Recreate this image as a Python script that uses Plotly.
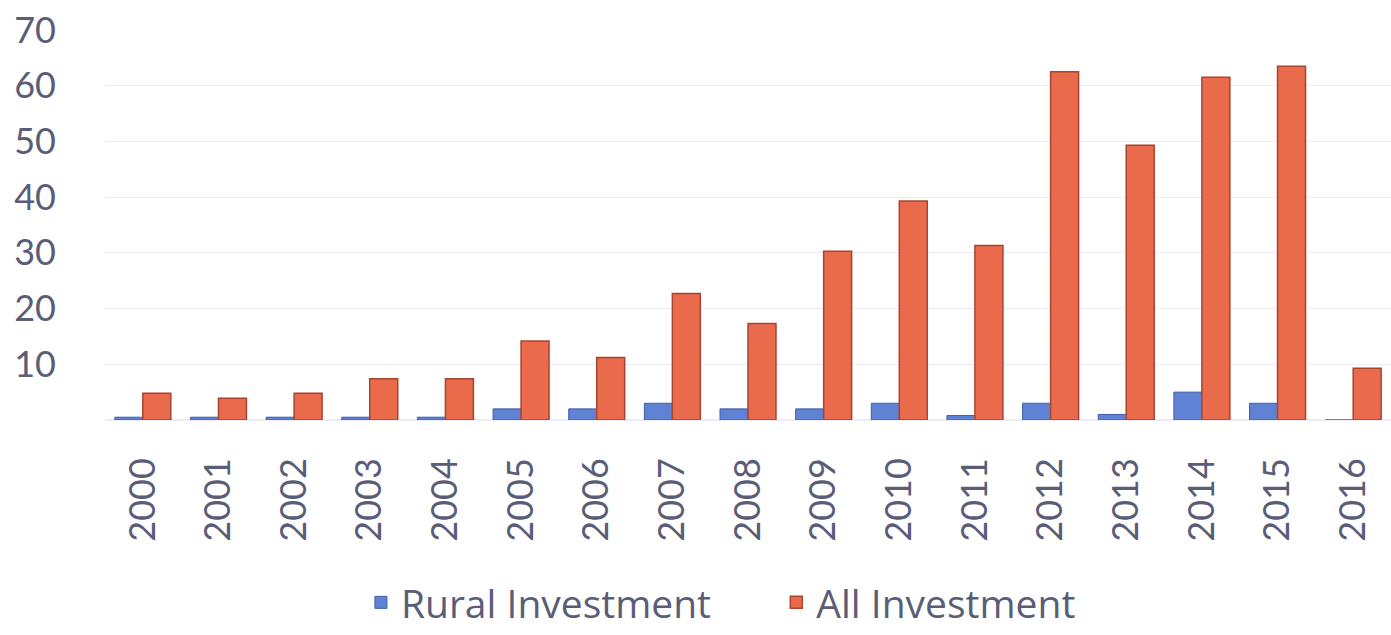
import plotly.graph_objects as go

years = [str(y) for y in range(2000, 2017)]
rural = [0.5, 0.5, 0.5, 0.5, 0.5, 2, 2, 3, 2, 2, 3, 0.8, 3, 1, 5, 3, 0]
all_inv = [4.8, 3.9, 4.8, 7.4, 7.4, 14.2, 11.2, 22.7, 17.3, 30.3, 39.3, 31.3, 62.5, 49.3, 61.5, 63.5, 9.3]
y_ticks = [10, 20, 30, 40, 50, 60, 70]

font_fam = "Lato, 'Open Sans', sans-serif"
txt_col = "#5a5d78"
leg_font = dict(size=39, color=txt_col, family="'Open Sans', sans-serif")

fig = go.Figure()
fig.add_trace(go.Bar(
    x=years, y=rural, name="Rural Investment", legend="legend",
    marker=dict(color="#5f82d4", line=dict(color="#3f5ea8", width=1)),
))
fig.add_trace(go.Bar(
    x=years, y=all_inv, name="All Investment", legend="legend2",
    marker=dict(color="#ea6a4c", line=dict(color="#a8452f", width=1.5)),
))

fig.update_layout(
    width=1391, height=635,
    margin=dict(l=105, r=0, t=30, b=208),
    paper_bgcolor="white", plot_bgcolor="white",
    barmode="group", bargap=0.26, bargroupgap=0.0,
    font=dict(family=font_fam, color=txt_col),
    showlegend=True,
    legend=dict(
        orientation="h", x=0.199, xanchor="left", y=-0.468, yanchor="middle",
        font=leg_font, bgcolor="rgba(0,0,0,0)",
    ),
    legend2=dict(
        orientation="h", x=0.522, xanchor="left", y=-0.468, yanchor="middle",
        font=leg_font, bgcolor="rgba(0,0,0,0)",
    ),
    xaxis=dict(
        tickangle=-90, tickfont=dict(size=36, color=txt_col),
        showgrid=False, showline=False, ticks="", ticklen=0,
        ticklabelstandoff=30,
    ),
    yaxis=dict(
        range=[0, 70], tickvals=y_ticks, ticktext=[str(v) for v in y_ticks],
        tickfont=dict(size=36, color=txt_col),
        showgrid=True, gridcolor="#ecebf8", gridwidth=1,
        zeroline=True, zerolinecolor="#ecebf8", showline=False, ticks="",
        ticklabelstandoff=48,
    ),
)

fig.write_html("out.html")
